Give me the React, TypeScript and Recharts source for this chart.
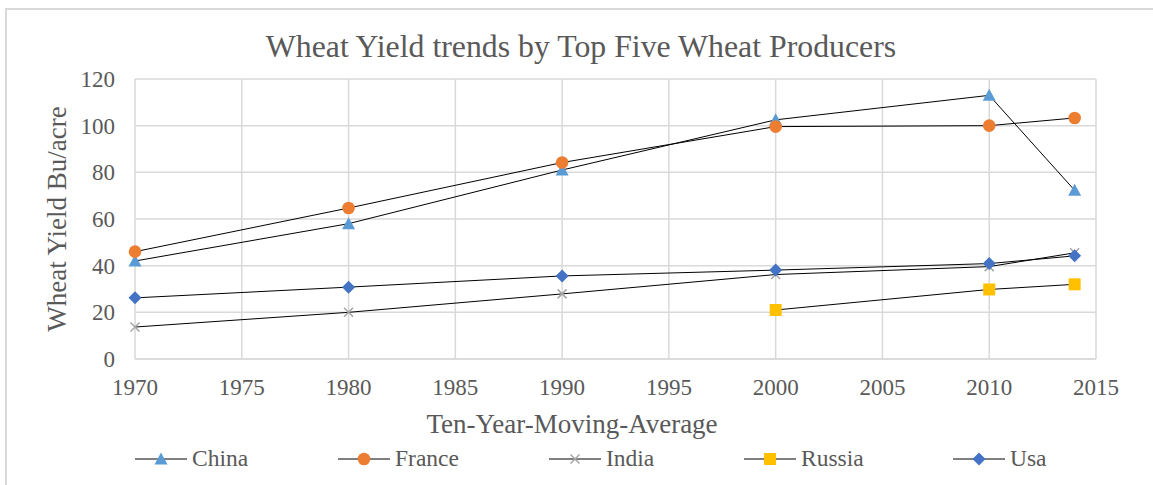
import React from 'react';
import { LineChart, Line, XAxis, YAxis, CartesianGrid } from 'recharts';

const years = [1970, 1980, 1990, 2000, 2010, 2014];
const china = [42, 58, 81, 102.5, 113, 72.3];
const france = [46, 64.7, 84.2, 99.6, 100, 103.3];
const india = [13.7, 20, 27.9, 36.2, 39.6, 45.5];
const russia: (number | null)[] = [null, null, null, 21, 29.8, 32];
const usa = [26.2, 30.8, 35.6, 38.1, 40.9, 44.2];

const seriesNames = ['China', 'France', 'India', 'Russia', 'Usa'];
const seriesValues = [china, france, india, russia, usa];
const xTicks = [1970, 1975, 1980, 1985, 1990, 1995, 2000, 2005, 2010, 2015];
const yTicks = [0, 20, 40, 60, 80, 100, 120];

const title = 'Wheat Yield trends by Top Five Wheat Producers';
const xTitle = 'Ten-Year-Moving-Average';
const yTitle = 'Wheat Yield Bu/acre';

const data = years.map((year, i) => {
  const row: Record<string, number | null> = { year };
  seriesNames.forEach((name, s) => {
    row[name] = seriesValues[s][i];
  });
  return row;
});

const colors: Record<string, string> = {
  China: '#5B9BD5',
  France: '#ED7D31',
  India: '#A5A5A5',
  Russia: '#FFC000',
  Usa: '#4472C4',
};

const FONT = '"Liberation Serif", "Times New Roman", serif';
const TEXT = '#595959';
const GRID = '#d9d9d9';

function Marker({ name, cx, cy }: { name: string; cx: number; cy: number }) {
  const c = colors[name];
  switch (name) {
    case 'China':
      return <polygon points={`${cx},${cy - 6.5} ${cx + 6.5},${cy + 5.5} ${cx - 6.5},${cy + 5.5}`} fill={c} />;
    case 'France':
      return <circle cx={cx} cy={cy} r={6.3} fill={c} />;
    case 'India':
      return (
        <g stroke={c} strokeWidth={1.5}>
          <line x1={cx - 4.5} y1={cy - 4.5} x2={cx + 4.5} y2={cy + 4.5} />
          <line x1={cx - 4.5} y1={cy + 4.5} x2={cx + 4.5} y2={cy - 4.5} />
        </g>
      );
    case 'Russia':
      return <rect x={cx - 6} y={cy - 6} width={12} height={12} fill={c} />;
    default:
      return <polygon points={`${cx},${cy - 6.5} ${cx + 6.5},${cy} ${cx},${cy + 6.5} ${cx - 6.5},${cy}`} fill={c} />;
  }
}

const makeDot = (name: string) => (props: any) => {
  const { cx, cy, index, value } = props;
  if (cx == null || cy == null || value == null || Number.isNaN(cy)) return <g key={`${name}-${index}`} />;
  return (
    <g key={`${name}-${index}`}>
      <Marker name={name} cx={cx} cy={cy} />
    </g>
  );
};

const legendX = [135, 338, 549, 744, 953];

export default function App() {
  return (
    <div style={{ position: 'absolute', left: 0, top: 0, width: 1153, height: 485, background: '#fff', overflow: 'hidden' }}>
      <div
        style={{
          position: 'absolute',
          left: 5,
          top: 8,
          width: 1160,
          height: 500,
          borderLeft: `2px solid ${GRID}`,
          borderTop: `2px solid ${GRID}`,
        }}
      />
      <div style={{ position: 'absolute', left: 0, top: 0 }}>
        <LineChart width={1153} height={485} data={data} margin={{ top: 79, right: 57, bottom: 96, left: 75 }}>
          <CartesianGrid stroke={GRID} strokeWidth={1.5} />
          <XAxis
            dataKey="year"
            type="number"
            domain={[1970, 2015]}
            ticks={xTicks}
            interval={0}
            height={30}
            tickLine={false}
            tickSize={0}
            tickMargin={20}
            axisLine={{ stroke: GRID, strokeWidth: 1.5 }}
            tick={{ fill: TEXT, fontSize: 23, fontFamily: FONT }}
          />
          <YAxis
            type="number"
            domain={[0, 120]}
            ticks={yTicks}
            interval={0}
            width={60}
            tickLine={false}
            tickSize={0}
            tickMargin={20}
            axisLine={false}
            tick={{ fill: TEXT, fontSize: 23, fontFamily: FONT }}
          />
          {seriesNames.map((name) => (
            <Line
              key={name}
              dataKey={name}
              type="linear"
              stroke="#000"
              strokeWidth={1}
              dot={makeDot(name)}
              activeDot={false}
              connectNulls={false}
              isAnimationActive={false}
            />
          ))}
        </LineChart>
      </div>
      <svg width={1153} height={485} style={{ position: 'absolute', left: 0, top: 0, pointerEvents: 'none' }}>
        <text x={581} y={57} textAnchor="middle" fontFamily={FONT} fontSize={31.8} fill={TEXT}>
          {title}
        </text>
        <text x={572} y={433} textAnchor="middle" fontFamily={FONT} fontSize={27} fill={TEXT}>
          {xTitle}
        </text>
        <text
          x={66}
          y={219}
          textAnchor="middle"
          fontFamily={FONT}
          fontSize={27}
          fill={TEXT}
          transform="rotate(-90, 66, 219)"
        >
          {yTitle}
        </text>
        {seriesNames.map((name, i) => {
          const x0 = legendX[i];
          return (
            <g key={name}>
              <line x1={x0} y1={459} x2={x0 + 52} y2={459} stroke="#000" strokeWidth={1} />
              <Marker name={name} cx={x0 + 26} cy={459} />
              <text x={x0 + 57} y={466} fontFamily={FONT} fontSize={23.5} fill={TEXT}>
                {name}
              </text>
            </g>
          );
        })}
      </svg>
    </div>
  );
}
